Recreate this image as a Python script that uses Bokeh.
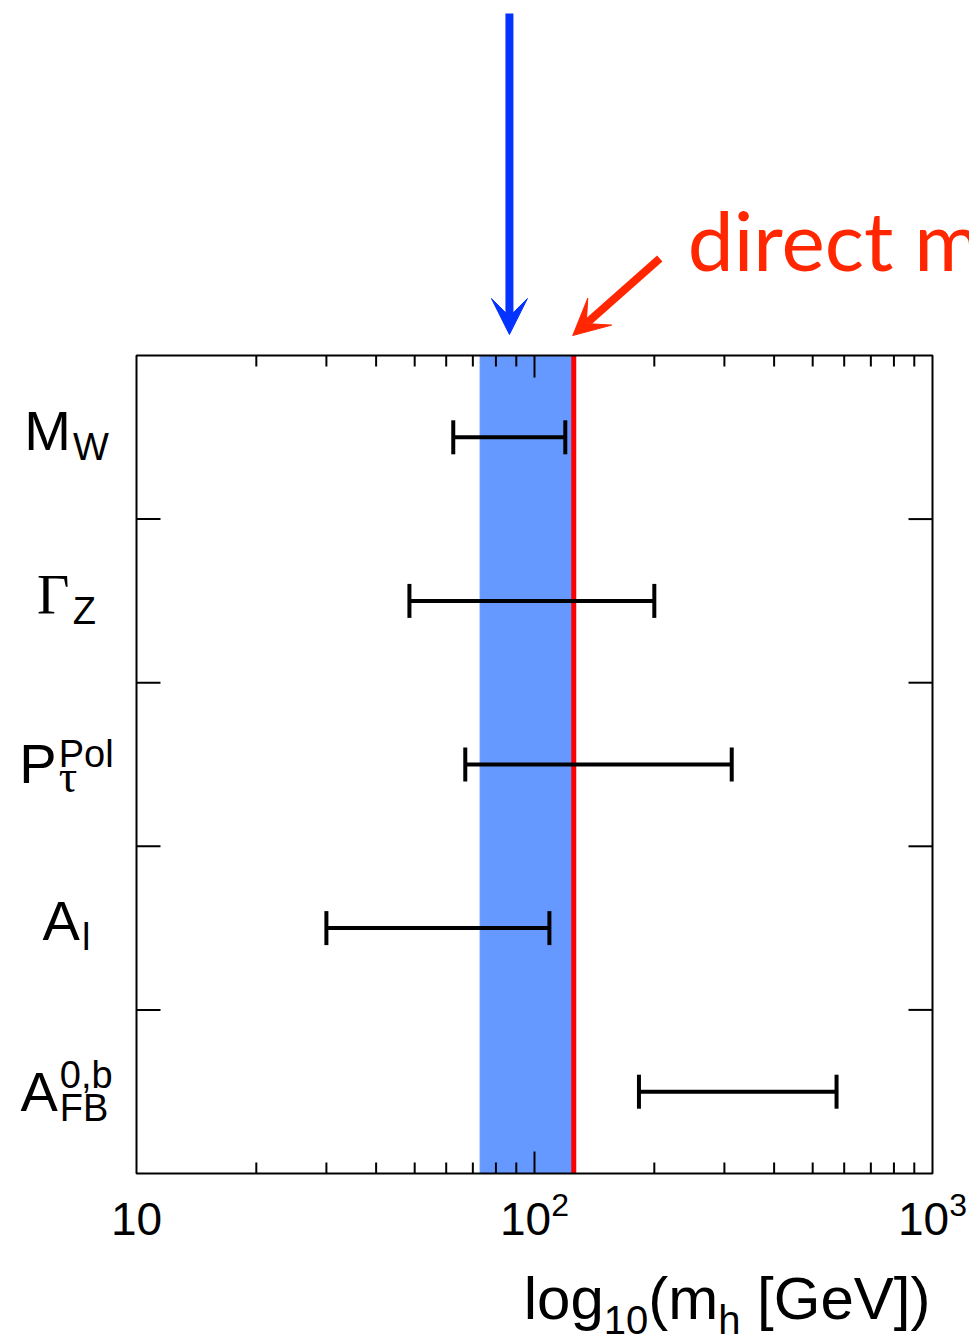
from bokeh.plotting import figure
from bokeh.models import (Range1d, Arrow, VeeHead, Whisker, TeeHead, ColumnDataSource,
                          LogScale)
from bokeh.core.properties import value
from bokeh.embed import file_html
from bokeh.resources import INLINE

# ---- data -------------------------------------------------------------
observables = ["M_W", "Gamma_Z", "P_tau_Pol", "A_l", "A_FB_0b"]
mh_low = [62.5, 48.5, 67.0, 30.0, 183.0]      # GeV
mh_high = [119.5, 200.0, 313.0, 109.0, 574.0]  # GeV
band_low, band_high = 73.0, 124.0              # global fit band, GeV
mh_direct = 125.5                              # direct measurement, GeV
mh_fit = 86.5                                  # fit central value, GeV
x_ticks = [10, 100, 1000]
x_tick_base = ["10", "10", "10"]
x_tick_exp = ["", "2", "3"]

# ---- geometry (pixel layout of the plot box on the page) ---------------
W, H = 969, 1341
FL, FR, FT, FB = 136, 932, 355, 1173
NROW = len(observables)
row_y = [NROW - 0.5 - i for i in range(NROW)]
PXR = (FB - FT) / NROW            # pixels per row
DECADE_PX = (FR - FL) / 2.0       # pixels per decade
BASELINE_FIX = 0.4                # text baseline correction, in em

HELV = {"M": 833, "W": 944, "Z": 611, "P": 667, "o": 556, "l": 222, "A": 667,
        "F": 611, "B": 667, "0": 556, ",": 278, "b": 556, "g": 556, "1": 556,
        "2": 556, "3": 556, "(": 333, "m": 833, "h": 556, " ": 278, "[": 278,
        "G": 778, "e": 556, "V": 667, "]": 278, ")": 333, "Γ": 600, "τ": 440}


def text_w(s, size):
    return sum(HELV.get(c, 556) for c in s) / 1000.0 * size


def xd(px):
    return 10 ** (1 + (px - FL) / DECADE_PX)


def yd(py):
    return (FB - py) / PXR


def xmul(dpx):
    return 10 ** (dpx / DECADE_PX)


def put(xpx_or_data, base_px, s, font, size, color="black", data_x=False):
    """Place a text with its alphabetic baseline at pixel row base_px."""
    x = xpx_or_data if data_x else xd(xpx_or_data)
    p.text(x=[x], y=[yd(base_px - BASELINE_FIX * size)], text=[s],
           text_font=value(font), text_font_size=value(f"{size}px"),
           text_baseline="alphabetic", text_align="left", text_color=color)


p = figure(width=W, height=H, x_axis_type=None, y_axis_type=None,
           x_range=Range1d(xd(0), xd(W)), y_range=Range1d(yd(H), yd(0)),
           output_backend="svg", toolbar_location=None,
           min_border=0, min_border_left=0, min_border_right=0,
           min_border_top=0, min_border_bottom=0,
           background_fill_color="white", border_fill_color="white")
p.x_scale = LogScale()
p.grid.visible = False
p.outline_line_color = None

# global fit band and direct measurement line
p.quad(left=[band_low], right=[band_high], bottom=[0], top=[NROW],
       fill_color="#6699ff", line_color="#6699ff", line_width=1)
p.segment(x0=[mh_direct], x1=[mh_direct], y0=[0], y1=[NROW],
          line_color="#ff0000", line_width=5)

# per-observable Higgs mass ranges
src = ColumnDataSource(dict(y=row_y, lo=mh_low, hi=mh_high))
p.add_layout(Whisker(source=src, base="y", lower="lo", upper="hi", dimension="width",
                     line_color="black", line_width=4, level="overlay",
                     lower_head=TeeHead(size=34, line_width=4, line_color="black"),
                     upper_head=TeeHead(size=34, line_width=4, line_color="black")))

# plot box
xlo, xhi = x_ticks[0], x_ticks[-1]
p.quad(left=[xlo], right=[xhi], bottom=[0], top=[NROW], fill_color=None,
       line_color="black", line_width=2)

# x ticks (top and bottom, inward)
minor = [m * d for d in x_ticks[:-1] for m in range(2, 10)]
maj_len, min_len = 22 / PXR, 11 / PXR
tx0, ty0, ty1 = [], [], []
for t, ln in [(t, maj_len) for t in x_ticks[1:-1]] + [(t, min_len) for t in minor]:
    tx0 += [t, t]
    ty0 += [0, NROW]
    ty1 += [ln, NROW - ln]
p.segment(x0=tx0, x1=tx0, y0=ty0, y1=ty1, line_color="black", line_width=2)

# y ticks at row boundaries (left and right, inward)
ybound = list(range(1, NROW))
ylen = xmul(24)
p.segment(x0=[xlo] * len(ybound) + [xhi] * len(ybound),
          x1=[xlo * ylen] * len(ybound) + [xhi / ylen] * len(ybound),
          y0=ybound * 2, y1=ybound * 2, line_color="black", line_width=2)

# x tick labels: 10, 10^2, 10^3
TICK_FS, EXP_FS = 46, 32
for t, b, e in zip(x_ticks, x_tick_base, x_tick_exp):
    wb, we = text_w(b, TICK_FS), text_w(e, EXP_FS)
    x0 = -(wb + we) / 2.0
    put(t * xmul(x0), 1237, b, "Liberation Sans", TICK_FS, data_x=True)
    if e:
        put(t * xmul(x0 + wb), 1217, e, "Liberation Sans", EXP_FS, data_x=True)

# row labels (main symbol with sub/superscripts)
MAIN, SMALL = 56, 38
row_labels = [
    # main, main font, sub, sub font, sub size, sup, baseline offset, sup raise
    ("M", "Liberation Sans", "W", "Liberation Sans", SMALL, None, 16, 0),
    ("Γ", "Liberation Serif", "Z", "Liberation Sans", SMALL, None, 16, 0),
    ("P", "Liberation Sans", "τ", "Liberation Serif", 46, "Pol", 21, 16),
    ("A", "Liberation Sans", "l", "Liberation Sans", SMALL, None, 15, 0),
    ("A", "Liberation Sans", "FB", "Liberation Sans", SMALL, "0,b", 22, 24),
]
CENTER_PX = 65
for yv, (mtxt, mfont, stxt, sfont, ssize, sup, base_off, sup_raise) in zip(row_y, row_labels):
    wm = text_w(mtxt, MAIN)
    ws = max(text_w(stxt, ssize), text_w(sup, SMALL) if sup else 0)
    x0 = CENTER_PX - (wm + ws) / 2.0
    base = FB - yv * PXR + base_off
    put(x0, base, mtxt, mfont, MAIN)
    put(x0 + wm + 2, base + 9, stxt, sfont, ssize)
    if sup:
        put(x0 + wm + 2, base - sup_raise, sup, "Liberation Sans", SMALL)

# x-axis title: log10(m_h [GeV]), right aligned to the plot box
TMAIN, TSUB = 60, 40
title_parts = [("log", TMAIN, 0, 0), ("10", TSUB, 13, 0), ("(m", TMAIN, 0, 0),
               ("h", TSUB, 13, 0), ("[GeV])", TMAIN, 0, text_w(" ", TMAIN))]
total = sum(text_w(t, s) + gap for t, s, _, gap in title_parts)
xpos = (FR - 2) - total
for t, s, dy, gap in title_parts:
    xpos += gap
    put(xpos, 1322 + dy, t, "Liberation Sans", s)
    xpos += text_w(t, s)

# arrows above the plot box
BLUE, RED = "#0433ff", "#ff2600"
p.add_layout(Arrow(x_start=mh_fit, y_start=yd(13), x_end=mh_fit, y_end=yd(334),
                   line_color=BLUE, line_width=8,
                   end=VeeHead(size=36, fill_color=BLUE, line_color=BLUE)))
p.add_layout(Arrow(x_start=mh_direct * xmul(86), y_start=yd(258),
                   x_end=mh_direct * xmul(-1), y_end=yd(335),
                   line_color=RED, line_width=8,
                   end=VeeHead(size=36, fill_color=RED, line_color=RED)))
put(mh_direct * xmul(114), 271, "direct measurement", "Lato", 82, color=RED, data_x=True)

open("out.html", "w").write(file_html(p, INLINE))
